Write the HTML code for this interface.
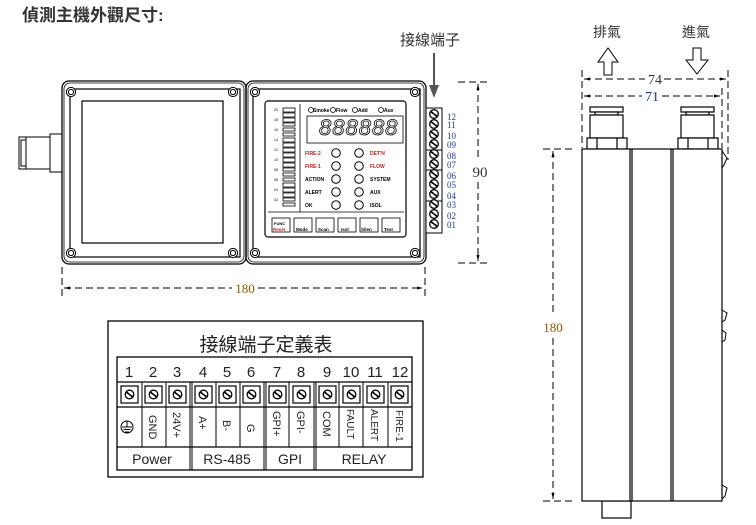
<!DOCTYPE html>
<html><head><meta charset="utf-8"><style>
html,body{margin:0;padding:0;background:#fff;width:756px;height:525px;overflow:hidden}
svg{display:block}
text{font-family:"Liberation Sans","Noto Sans CJK TC",sans-serif}
text.s,.s text{font-family:"Liberation Serif","Noto Serif CJK SC",serif}
</style></head><body>
<svg width="756" height="525" viewBox="0 0 756 525" xmlns="http://www.w3.org/2000/svg">
<defs>
<g id="scr"><circle r="4.6" fill="#fff" stroke="#000" stroke-width="1"/><circle r="2.6" fill="none" stroke="#000" stroke-width="1"/></g>
<g id="ts"><circle r="4.3" fill="#fff" stroke="#000" stroke-width="1.3"/><line x1="-3" y1="-2" x2="3" y2="2" stroke="#000" stroke-width="1.4"/><line x1="-2.5" y1="-2.6" x2="2.5" y2="2.6" stroke="#000" stroke-width="1"/></g>
<g id="led"><circle r="4.3" fill="#fff" stroke="#000" stroke-width="1"/></g>
</defs>
<text x="22" y="21" font-size="17" font-weight="bold" fill="#333">偵測主機外觀尺寸:</text>

<g fill="#fff" stroke="#000" stroke-width="1">
<rect x="50" y="134" width="12" height="38"/>
<rect x="26" y="137" width="24" height="32"/>
<rect x="19" y="137" width="7" height="32"/>
<rect x="21" y="140" width="5" height="26"/>
</g>
<g fill="none" stroke="#000">
<rect x="62" y="81" width="184" height="183" rx="7" stroke-width="1.3"/>
<rect x="64" y="83" width="180" height="179" rx="6" stroke-width="0.8"/>
<rect x="70" y="89" width="170" height="168" stroke-width="1.2"/>
<rect x="82" y="101" width="141" height="142" stroke-width="1.2"/>
<rect x="246" y="81" width="180" height="183" rx="7" stroke-width="1.3"/>
<rect x="248" y="83" width="176" height="179" rx="6" stroke-width="0.8"/>
<rect x="253" y="89" width="167" height="168" stroke-width="1.2"/>
<rect x="265" y="101" width="141" height="136" rx="3" stroke-width="1.2"/>
</g>
<use href="#scr" x="71" y="92"/><use href="#scr" x="233" y="92"/><use href="#scr" x="71" y="253"/><use href="#scr" x="233" y="253"/>
<use href="#scr" x="255" y="92"/><use href="#scr" x="415" y="92"/><use href="#scr" x="255" y="253"/><use href="#scr" x="415" y="253"/>
<g stroke="#000" fill="none" stroke-width="0.8">
<line x1="300" y1="104" x2="300" y2="212"/>
<line x1="268" y1="212" x2="404" y2="212"/>
<rect x="307" y="116" width="96" height="27"/>
<rect x="283" y="108" width="12" height="4"/><rect x="283" y="113" width="12" height="4"/>
<rect x="283" y="118" width="12" height="4"/><rect x="283" y="123" width="12" height="3"/>
<rect x="283" y="128" width="12" height="3"/><rect x="283" y="133" width="12" height="3"/>
<rect x="283" y="138" width="12" height="4"/><rect x="283" y="143" width="12" height="4"/>
<rect x="283" y="148" width="12" height="4"/><rect x="283" y="153" width="12" height="4"/>
<rect x="283" y="158" width="12" height="4"/><rect x="283" y="163" width="12" height="4"/>
<rect x="283" y="168" width="12" height="3"/><rect x="283" y="173" width="12" height="3"/>
<rect x="283" y="178" width="12" height="3"/><rect x="283" y="183" width="12" height="4"/>
<rect x="283" y="188" width="12" height="4"/><rect x="283" y="193" width="12" height="4"/>
<rect x="283" y="198" width="12" height="3"/><rect x="283" y="203" width="12" height="3"/>
<rect x="272" y="218" width="18" height="14"/><rect x="294" y="218" width="18" height="14"/>
<rect x="316" y="218" width="18" height="14"/><rect x="338" y="218" width="18" height="14"/>
<rect x="360" y="218" width="18" height="14"/><rect x="382" y="218" width="18" height="14"/>
<circle cx="311" cy="110" r="2.5"/><circle cx="333" cy="110" r="2.5"/><circle cx="355" cy="110" r="2.5"/><circle cx="381" cy="110" r="2.5"/>
</g>
<text x="319" y="135" font-size="22" font-style="italic" fill="#fff" stroke="#000" stroke-width="0.8" letter-spacing="1">888888</text>
<g font-size="5" fill="#000" font-weight="bold">
<text x="313" y="112">Smoke</text><text x="336" y="112">Flow</text><text x="358" y="112">Add</text><text x="384" y="112">Aux</text>
<text x="305" y="155" fill="#b22">FIRE-2</text><text x="305" y="168" fill="#b22">FIRE-1</text>
<text x="305" y="181">ACTION</text><text x="305" y="194">ALERT</text><text x="305" y="207">OK</text>
<text x="370" y="155" fill="#b22">DET'N</text><text x="370" y="168" fill="#b22">FLOW</text>
<text x="370" y="181">SYSTEM</text><text x="370" y="194">AUX</text><text x="370" y="207">ISOL</text>
<text x="274" y="225" font-size="4">FUNC</text><text x="273" y="231" font-size="4.5" fill="#b22">Reset</text>
<text x="296" y="231" font-size="4.5">Mode</text><text x="318" y="231" font-size="4.5">Scan</text>
<text x="341" y="231" font-size="4.5">Isol</text><text x="361" y="231" font-size="4.5">Silen</text><text x="384" y="231" font-size="4.5">Test</text>
</g>
<g font-size="3.5" fill="#000">
<text x="274" y="111">20</text><text x="274" y="121">18</text><text x="274" y="131">16</text><text x="274" y="141">14</text><text x="274" y="151">12</text><text x="274" y="161">10</text><text x="274" y="171">08</text><text x="274" y="181">06</text><text x="274" y="191">04</text><text x="274" y="201">02</text>
</g>
<use href="#led" x="336" y="153"/><use href="#led" x="336" y="166"/><use href="#led" x="336" y="179"/><use href="#led" x="336" y="192"/><use href="#led" x="336" y="205"/>
<use href="#led" x="359" y="153"/><use href="#led" x="359" y="166"/><use href="#led" x="359" y="179"/><use href="#led" x="359" y="192"/><use href="#led" x="359" y="205"/>
<rect x="426" y="108" width="16" height="125" fill="#fff" stroke="#000" stroke-width="1"/>
<g stroke="#000" stroke-width="1"><line x1="426" y1="150" x2="442" y2="150"/><line x1="426" y1="170" x2="442" y2="170"/><line x1="426" y1="201" x2="442" y2="201"/></g>
<use href="#ts" x="434" y="114"/><use href="#ts" x="434" y="124"/><use href="#ts" x="434" y="134"/><use href="#ts" x="434" y="144"/>
<use href="#ts" x="434" y="154"/><use href="#ts" x="434" y="164"/><use href="#ts" x="434" y="174"/><use href="#ts" x="434" y="184"/>
<use href="#ts" x="434" y="194"/><use href="#ts" x="434" y="204"/><use href="#ts" x="434" y="214"/><use href="#ts" x="434" y="224"/>
<g class="s" font-size="9" fill="#1a3a8a">
<text x="447" y="120">12</text><text x="447" y="128">11</text><text x="447" y="139">10</text><text x="447" y="148">09</text>
<text x="447" y="159">08</text><text x="447" y="168">07</text><text x="447" y="179">06</text><text x="447" y="188">05</text>
<text x="447" y="199">04</text><text x="447" y="208">03</text><text x="447" y="219">02</text><text x="447" y="228">01</text>
</g>
<text x="400" y="45" font-size="15" fill="#333">接線端子</text>
<line x1="434" y1="53" x2="434" y2="86" stroke="#555" stroke-width="2"/>
<polygon points="429,85 439,85 434,98" fill="#555"/>
<g stroke="#000" stroke-width="1" stroke-dasharray="7,4" fill="none">
<line x1="62" y1="267" x2="62" y2="298"/><line x1="425" y1="267" x2="425" y2="298"/>
<line x1="64" y1="288" x2="232" y2="288"/><line x1="258" y1="288" x2="423" y2="288"/>
<line x1="458" y1="82" x2="490" y2="82"/><line x1="458" y1="263" x2="490" y2="263"/>
<line x1="478" y1="84" x2="478" y2="160"/><line x1="478" y1="182" x2="478" y2="261"/>
</g>
<polygon points="64,288 70,286.5 70,289.5"/><polygon points="423,288 417,286.5 417,289.5"/>
<polygon points="478,84 476.5,90 479.5,90"/><polygon points="478,261 476.5,255 479.5,255"/>
<text class="s" x="245" y="293" font-size="13" fill="#8a5a00" text-anchor="middle">180</text>
<text class="s" x="480" y="177" font-size="15" fill="#333" text-anchor="middle">90</text>

<text x="593" y="37" font-size="14" fill="#333">排氣</text>
<text x="682" y="37" font-size="14" fill="#333">進氣</text>
<polygon points="604,75 612,75 612,62 618,62 608,48 598,62 604,62" fill="#fff" stroke="#000" stroke-width="1"/>
<polygon points="693,48 701,48 701,60 708,60 697,74 686,60 693,60" fill="#fff" stroke="#000" stroke-width="1"/>
<g stroke="#000" stroke-width="1" stroke-dasharray="7,4" fill="none">
<line x1="582" y1="70" x2="582" y2="148"/><line x1="728" y1="70" x2="728" y2="160"/><line x1="722" y1="88" x2="722" y2="148"/>
<line x1="584" y1="79" x2="645" y2="79"/><line x1="664" y1="79" x2="726" y2="79"/>
<line x1="584" y1="96" x2="642" y2="96"/><line x1="662" y1="96" x2="720" y2="96"/>
<line x1="543" y1="149" x2="572" y2="149"/><line x1="543" y1="501" x2="572" y2="501"/>
<line x1="553" y1="151" x2="553" y2="315"/><line x1="553" y1="338" x2="553" y2="499"/>
</g>
<polygon points="584,79 590,77.5 590,80.5"/><polygon points="726,79 720,77.5 720,80.5"/>
<polygon points="584,96 590,94.5 590,97.5"/><polygon points="720,96 714,94.5 714,97.5"/>
<polygon points="553,151 551.5,157 554.5,157"/><polygon points="553,499 551.5,493 554.5,493"/>
<text class="s" x="655" y="84" font-size="14" fill="#333" text-anchor="middle">74</text>
<text class="s" x="652" y="101" font-size="14" fill="#1a3a8a" text-anchor="middle">71</text>
<text class="s" x="553" y="332" font-size="13" fill="#8a5a00" text-anchor="middle">180</text>
<g fill="#fff" stroke="#000" stroke-width="1.2">
<rect x="590" y="107" width="33" height="5"/><rect x="595" y="112" width="23" height="3"/>
<rect x="590" y="115" width="33" height="23"/><rect x="587" y="138" width="40" height="11"/>
<line x1="597" y1="138" x2="597" y2="149"/><line x1="617" y1="138" x2="617" y2="149"/>
<rect x="681" y="107" width="33" height="5"/><rect x="686" y="112" width="23" height="3"/>
<rect x="681" y="115" width="33" height="23"/><rect x="678" y="138" width="40" height="11"/>
<line x1="688" y1="138" x2="688" y2="149"/><line x1="708" y1="138" x2="708" y2="149"/>
<rect x="602" y="501" width="29" height="17"/>
<rect x="582" y="149" width="140" height="352"/>
<line x1="630" y1="149" x2="630" y2="501"/><line x1="632" y1="149" x2="632" y2="501"/>
<line x1="671" y1="149" x2="671" y2="501"/><line x1="673" y1="149" x2="673" y2="501"/>
</g>
<g fill="none" stroke="#000" stroke-width="1">
<path d="M722,151 L727,158 L724,165 L722,168"/>
<path d="M722,310 L727,313 L725,320 L722,322 M722,330 L726,333 L725,340 L722,342"/>
<path d="M722,485 L727,488 L725,496 L722,499"/>
</g>

<rect x="108" y="321" width="315" height="156" fill="#fff" stroke="#000" stroke-width="1.3"/>
<text x="266" y="351" font-size="19" fill="#222" text-anchor="middle">接線端子定義表</text>
<g stroke="#000" fill="none" stroke-width="1.3">
<rect x="117" y="357" width="295" height="113"/>
<line x1="117" y1="382" x2="412" y2="382"/><line x1="117" y1="407" x2="412" y2="407"/><line x1="117" y1="447" x2="412" y2="447"/>
</g>
<g stroke="#000" stroke-width="1">
<line x1="142" y1="382" x2="142" y2="447"/><line x1="166" y1="382" x2="166" y2="447"/>
<line x1="190" y1="382" x2="190" y2="470"/><line x1="192" y1="382" x2="192" y2="470"/>
<line x1="216" y1="382" x2="216" y2="447"/><line x1="240" y1="382" x2="240" y2="447"/>
<line x1="264" y1="382" x2="264" y2="470"/><line x1="266" y1="382" x2="266" y2="470"/>
<line x1="289" y1="382" x2="289" y2="447"/>
<line x1="314" y1="382" x2="314" y2="470"/><line x1="316" y1="382" x2="316" y2="470"/>
<line x1="339" y1="382" x2="339" y2="447"/><line x1="363" y1="382" x2="363" y2="447"/><line x1="388" y1="382" x2="388" y2="447"/>
</g>
<g stroke="#000" stroke-width="1.2" fill="#fff">
<rect x="121" y="386" width="17" height="17"/><rect x="145" y="386" width="17" height="17"/><rect x="169" y="386" width="17" height="17"/>
<rect x="195" y="386" width="17" height="17"/><rect x="219" y="386" width="17" height="17"/><rect x="243" y="386" width="17" height="17"/>
<rect x="269" y="386" width="17" height="17"/><rect x="293" y="386" width="17" height="17"/>
<rect x="319" y="386" width="17" height="17"/><rect x="343" y="386" width="17" height="17"/><rect x="367" y="386" width="17" height="17"/><rect x="391" y="386" width="17" height="17"/>
</g>
<use href="#ts" x="129.5" y="394.5"/><use href="#ts" x="153.5" y="394.5"/><use href="#ts" x="177.5" y="394.5"/>
<use href="#ts" x="203.5" y="394.5"/><use href="#ts" x="227.5" y="394.5"/><use href="#ts" x="251.5" y="394.5"/>
<use href="#ts" x="277.5" y="394.5"/><use href="#ts" x="301.5" y="394.5"/>
<use href="#ts" x="327.5" y="394.5"/><use href="#ts" x="351.5" y="394.5"/><use href="#ts" x="375.5" y="394.5"/><use href="#ts" x="399.5" y="394.5"/>
<g font-size="15" fill="#222" text-anchor="middle">
<text x="129" y="377">1</text><text x="153" y="377">2</text><text x="177" y="377">3</text>
<text x="203" y="377">4</text><text x="227" y="377">5</text><text x="251" y="377">6</text>
<text x="277" y="377">7</text><text x="301" y="377">8</text>
<text x="327" y="377">9</text><text x="351" y="377">10</text><text x="375" y="377">11</text><text x="400" y="377">12</text>
</g>
<g font-size="11" fill="#222">
<text transform="translate(149,415) rotate(90)">GND</text>
<text transform="translate(173,412) rotate(90)">24V+</text>
<text transform="translate(199,416) rotate(90)">A+</text>
<text transform="translate(223,420) rotate(90)">B-</text>
<text transform="translate(247,424) rotate(90)">G</text>
<text transform="translate(273,411) rotate(90)">GPI+</text>
<text transform="translate(297,411) rotate(90)">GPI-</text>
<text transform="translate(323,411) rotate(90)">COM</text>
<text transform="translate(347,409) rotate(90)" font-size="10">FAULT</text>
<text transform="translate(371,409) rotate(90)" font-size="10">ALERT</text>
<text transform="translate(396,410) rotate(90)" font-size="10">FIRE-1</text>
</g>
<g stroke="#000" stroke-width="1" fill="none">
<circle cx="127" cy="427" r="6"/><line x1="127" y1="421" x2="127" y2="427"/>
<line x1="122" y1="427" x2="132" y2="427"/><line x1="123.5" y1="429.5" x2="130.5" y2="429.5"/><line x1="125" y1="432" x2="129" y2="432"/>
</g>
<g font-size="14" fill="#222" text-anchor="middle">
<text x="152" y="464">Power</text><text x="227" y="464">RS-485</text><text x="290" y="464">GPI</text><text x="364" y="464">RELAY</text>
</g>
</svg>
</body></html>
